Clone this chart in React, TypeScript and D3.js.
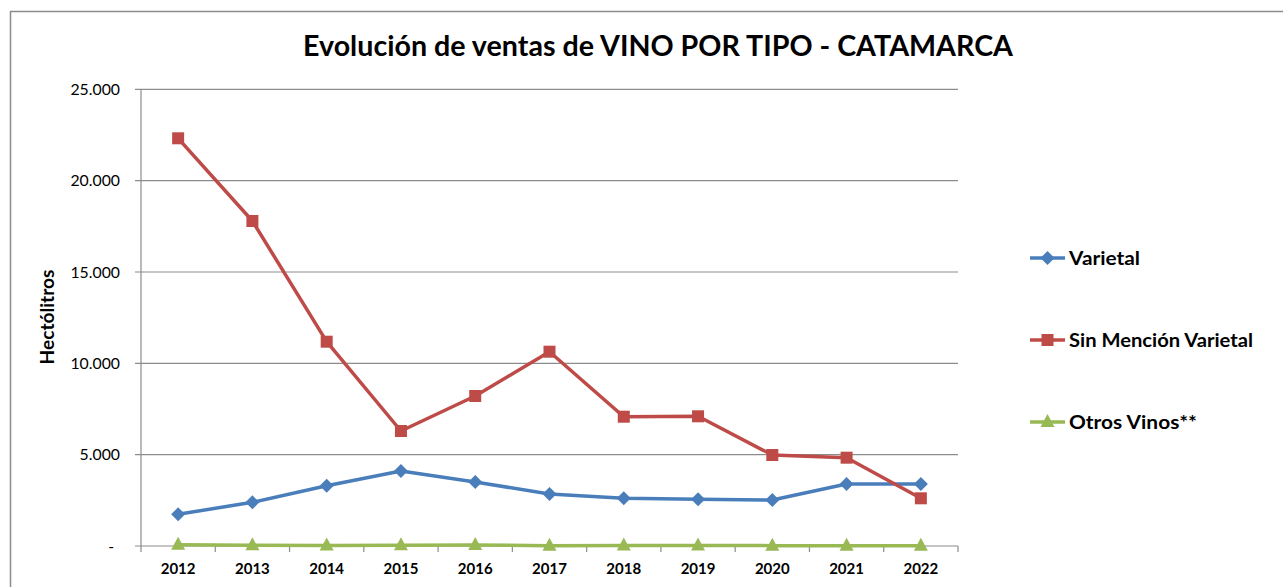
import React from "react";
import * as d3 from "d3";

const years = ["2012", "2013", "2014", "2015", "2016", "2017", "2018", "2019", "2020", "2021", "2022"];
const varietal = [1735, 2392, 3301, 4105, 3503, 2846, 2611, 2556, 2518, 3394, 3394];
const sinMencion = [22318, 17791, 11184, 6295, 8211, 10636, 7078, 7100, 4981, 4834, 2611];
const otrosVinos = [70, 40, 30, 40, 50, 20, 30, 30, 20, 20, 20];
const yTicks = [0, 5000, 10000, 15000, 20000, 25000];

const W = 1283;
const H = 587;
const FONT = "Lato, 'Open Sans', sans-serif";

type Series = {
  name: string;
  values: number[];
  color: string;
  marker: "diamond" | "square" | "triangle";
  labelWidth: number;
};

const series: Series[] = [
  { name: "Varietal", values: varietal, color: "#4A7EBB", marker: "diamond", labelWidth: 71 },
  { name: "Sin Mención Varietal", values: sinMencion, color: "#BE4B48", marker: "square", labelWidth: 184 },
  { name: "Otros Vinos**", values: otrosVinos, color: "#98B954", marker: "triangle", labelWidth: 128 },
];

const fmt = (v: number) => (v === 0 ? "-" : d3.format(",")(v).replace(/,/g, "."));

function Marker({ kind, x, y, color }: { kind: Series["marker"]; x: number; y: number; color: string }) {
  if (kind === "diamond") {
    const r = 7;
    return <path d={`M${x},${y - r}L${x + r},${y}L${x},${y + r}L${x - r},${y}Z`} fill={color} />;
  }
  if (kind === "square") {
    const s = 12;
    return <rect x={x - s / 2} y={y - s / 2} width={s} height={s} fill={color} />;
  }
  const r = 7;
  return <path d={`M${x},${y - r - 1}L${x + r},${y + 5}L${x - r},${y + 5}Z`} fill={color} />;
}

export default function App() {
  const left = 141;
  const right = 958;
  const top = 89.3;
  const bottom = 546;

  const x = d3.scaleBand<string>().domain(years).range([left, right]);
  const y = d3.scaleLinear().domain([0, 25000]).range([bottom, top]);
  const cx = (yr: string) => (x(yr) as number) + x.bandwidth() / 2;

  const line = d3
    .line<number>()
    .x((_, i) => cx(years[i]))
    .y((d) => y(d));

  const boundaries = years.map((yr) => x(yr) as number).concat([right]);
  const legendY = [258, 340, 422];

  return (
    <svg
      width={W}
      height={H}
      style={{ position: "absolute", left: 0, top: 0, background: "#fff" }}
      fontFamily={FONT}
    >
      <rect x={10.5} y={11.5} width={W + 20} height={H + 20} fill="#fff" stroke="#8c8c8c" strokeWidth={1.5} />

      <text
        x={303}
        y={56}
        fontSize={28.5}
        fontWeight="bold"
        fill="#000"
        textLength={710}
        lengthAdjust="spacingAndGlyphs"
      >
        Evolución de ventas de VINO POR TIPO - CATAMARCA
      </text>

      {/* gridlines */}
      {yTicks.map((t) => (
        <line key={t} x1={left - 6} x2={right} y1={y(t)} y2={y(t)} stroke="#8c8c8c" strokeWidth={1.2} />
      ))}
      {/* y axis */}
      <line x1={left} x2={left} y1={top} y2={bottom} stroke="#8c8c8c" strokeWidth={1.2} />
      {yTicks.map((t) => (
        <text key={t} x={t === 0 ? 114 : 120} y={y(t)} dy="0.35em" textAnchor="end" fontSize={15.8} fill="#000">
          {fmt(t)}
        </text>
      ))}
      {/* x axis ticks */}
      {boundaries.map((b, i) => (
        <line key={i} x1={b} x2={b} y1={bottom} y2={bottom + 6} stroke="#8c8c8c" strokeWidth={1.2} />
      ))}
      {years.map((yr) => (
        <text key={yr} x={cx(yr)} y={574} textAnchor="middle" fontSize={15} fontWeight="bold" fill="#000">
          {yr}
        </text>
      ))}

      <text
        transform="translate(54,317) rotate(-90)"
        textAnchor="middle"
        fontSize={18}
        fontWeight="bold"
        fill="#000"
        textLength={95}
        lengthAdjust="spacingAndGlyphs"
      >
        Hectólitros
      </text>

      {/* series lines and markers */}
      {series.map((s) => (
        <g key={s.name}>
          <path d={line(s.values) as string} fill="none" stroke={s.color} strokeWidth={3.5} strokeLinejoin="round" />
          {s.values.map((v, i) => (
            <Marker key={i} kind={s.marker} x={cx(years[i])} y={y(v)} color={s.color} />
          ))}
        </g>
      ))}

      {/* legend */}
      {series.map((s, i) => (
        <g key={s.name}>
          <line x1={1030} x2={1065} y1={legendY[i]} y2={legendY[i]} stroke={s.color} strokeWidth={3.5} />
          <Marker kind={s.marker} x={1047.5} y={legendY[i]} color={s.color} />
          <text
            x={1069}
            y={legendY[i]}
            dy="0.35em"
            fontSize={19}
            fontWeight="bold"
            fill="#000"
            textLength={s.labelWidth}
            lengthAdjust="spacingAndGlyphs"
          >
            {s.name}
          </text>
        </g>
      ))}
    </svg>
  );
}
